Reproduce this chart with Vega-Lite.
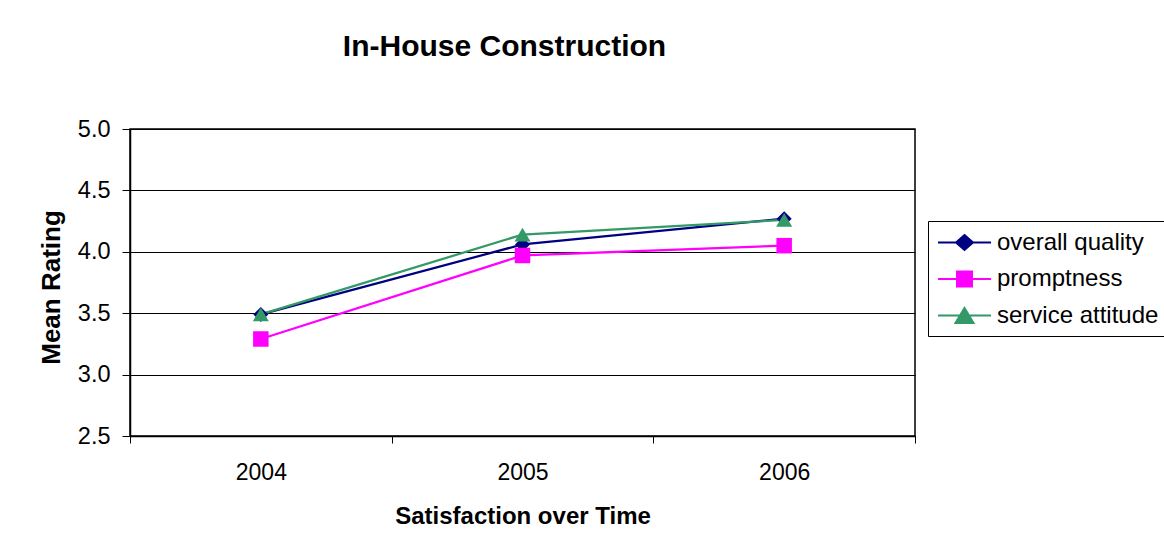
{
  "$schema": "https://vega.github.io/schema/vega-lite/v6.json",
  "width": 785,
  "height": 307,
  "autosize": {"type": "none"},
  "padding": {"left": 130, "top": 129, "right": 249, "bottom": 116},
  "background": "white",
  "config": {
    "font": "Liberation Sans",
    "view": {"stroke": "black", "strokeWidth": 1.5}
  },
  "title": {
    "text": "In-House Construction",
    "fontSize": 30,
    "fontWeight": "bold",
    "color": "black",
    "anchor": "middle",
    "offset": 55,
    "dx": -18
  },
  "data": {
    "values": [
      {"year": "2004", "series": "overall quality", "rating": 3.49},
      {"year": "2005", "series": "overall quality", "rating": 4.06},
      {"year": "2006", "series": "overall quality", "rating": 4.27},
      {"year": "2004", "series": "promptness", "rating": 3.29},
      {"year": "2005", "series": "promptness", "rating": 3.97},
      {"year": "2006", "series": "promptness", "rating": 4.05},
      {"year": "2004", "series": "service attitude", "rating": 3.49},
      {"year": "2005", "series": "service attitude", "rating": 4.14},
      {"year": "2006", "series": "service attitude", "rating": 4.26}
    ]
  },
  "encoding": {
    "x": {
      "field": "year",
      "type": "ordinal",
      "scale": {"type": "band", "paddingInner": 0, "paddingOuter": 0},
      "axis": {
        "title": "Satisfaction over Time",
        "titleFontSize": 24,
        "titleFontWeight": "bold",
        "titleColor": "black",
        "titlePadding": 20,
        "labelAngle": 0,
        "labelFontSize": 23,
        "labelColor": "black",
        "labelPadding": 18,
        "tickBand": "extent",
        "tickSize": 7,
        "tickColor": "black",
        "domainColor": "black",
        "domainWidth": 1.5,
        "grid": false
      }
    },
    "y": {
      "field": "rating",
      "type": "quantitative",
      "scale": {"domain": [2.5, 5], "nice": false, "zero": false},
      "axis": {
        "title": "Mean Rating",
        "titleFontSize": 26,
        "titleFontWeight": "bold",
        "titleColor": "black",
        "titlePadding": 13,
        "titleY": 158,
        "values": [2.5, 3, 3.5, 4, 4.5, 5],
        "format": ".1f",
        "labelFontSize": 23.5,
        "labelColor": "black",
        "labelPadding": 12,
        "tickSize": 8,
        "tickColor": "black",
        "domainColor": "black",
        "domainWidth": 1.5,
        "grid": true,
        "gridColor": "black",
        "gridWidth": 1,
        "gridOpacity": 1
      }
    },
    "color": {
      "field": "series",
      "type": "nominal",
      "scale": {
        "domain": ["overall quality", "promptness", "service attitude"],
        "range": ["#000080", "#FF00FF", "#339966"]
      },
      "legend": {
        "title": null,
        "orient": "none",
        "legendX": 798,
        "legendY": 92,
        "strokeColor": "black",
        "fillColor": "white",
        "padding": 8,
        "labelFontSize": 24,
        "labelColor": "black",
        "labelOffset": 34,
        "labelLimit": 400,
        "symbolSize": 625,
        "symbolStrokeWidth": 2,
        "rowPadding": 10.5,
        "encode": {
          "symbols": {
            "update": {
              "shape": {"signal": "datum.value === 'overall quality' ? 'M-0.92,0H3.32M1.2,-0.6L1.88,0L1.2,0.6L0.52,0Z' : datum.value === 'promptness' ? 'M-0.92,0H3.32M0.6,-0.6H1.8V0.6H0.6Z' : 'M-0.92,0H3.32M1.2,-0.6L1.92,0.59H0.48Z'"},
              "strokeWidth": {"value": 2}
            }
          }
        }
      }
    }
  },
  "layer": [
    {"mark": {"type": "line", "strokeWidth": 2.25}},
    {
      "transform": [{"filter": "datum.series === 'overall quality'"}],
      "mark": {"type": "point", "filled": true, "opacity": 1, "size": 225, "shape": "diamond"}
    },
    {
      "transform": [{"filter": "datum.series === 'promptness'"}],
      "mark": {"type": "point", "filled": true, "opacity": 1, "size": 240, "shape": "square"}
    },
    {
      "transform": [{"filter": "datum.series === 'service attitude'"}],
      "mark": {"type": "point", "filled": true, "opacity": 1, "size": 256, "shape": "triangle-up"}
    }
  ]
}
